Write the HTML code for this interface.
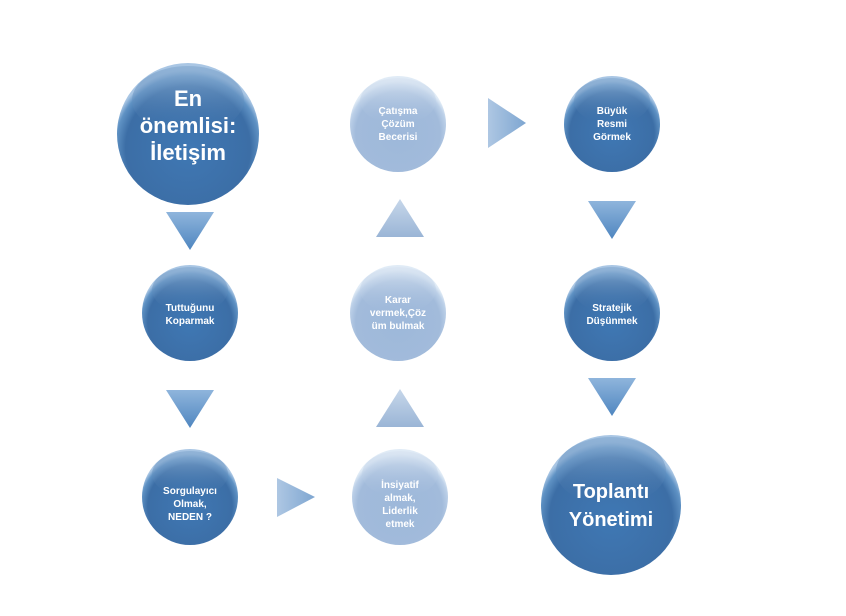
<!DOCTYPE html>
<html><head><meta charset="utf-8"><style>
html,body{margin:0;padding:0;background:#fff;}
svg{display:block;}
text{font-family:"Liberation Sans","DejaVu Sans",sans-serif;font-weight:bold;fill:#fff;text-anchor:middle;}
</style></head><body>
<svg width="846" height="616" viewBox="0 0 846 616" xmlns="http://www.w3.org/2000/svg">
<defs>
<radialGradient id="dk" cx="50%" cy="60%" r="55%">
<stop offset="0" stop-color="#3f78b4"/><stop offset="0.8" stop-color="#3c6ea6"/><stop offset="0.93" stop-color="#5f92c4"/><stop offset="1" stop-color="#a9c6e4"/>
</radialGradient>
<linearGradient id="dkTop" x1="0" y1="0" x2="0" y2="1">
<stop offset="0" stop-color="#8fb2d6" stop-opacity="0.9"/><stop offset="1" stop-color="#3c6ea6" stop-opacity="0"/>
</linearGradient>
<radialGradient id="lt" cx="50%" cy="60%" r="55%">
<stop offset="0" stop-color="#9db8da"/><stop offset="0.8" stop-color="#a2bbdb"/><stop offset="0.93" stop-color="#bcd0e8"/><stop offset="1" stop-color="#e0ebf6"/>
</radialGradient>
<linearGradient id="ltTop" x1="0" y1="0" x2="0" y2="1">
<stop offset="0" stop-color="#dbe6f3" stop-opacity="0.9"/><stop offset="1" stop-color="#a2bbdb" stop-opacity="0"/>
</linearGradient>
<linearGradient id="tri" x1="0" y1="0" x2="0" y2="1">
<stop offset="0" stop-color="#8fb5dc"/><stop offset="1" stop-color="#4f86c0"/>
</linearGradient>
<linearGradient id="triL" x1="0" y1="0" x2="0" y2="1">
<stop offset="0" stop-color="#c7d7ea"/><stop offset="1" stop-color="#9ab5d6"/>
</linearGradient>
<linearGradient id="triR" x1="0" y1="0" x2="1" y2="0">
<stop offset="0" stop-color="#aec7e3"/><stop offset="1" stop-color="#7ea6d1"/>
</linearGradient>
</defs>

<!-- triangles -->
<polygon points="166,212 214,212 190,250" fill="url(#tri)"/>
<polygon points="166,390 214,390 190,428" fill="url(#tri)"/>
<polygon points="277,478 277,517 315,497" fill="url(#triR)"/>
<polygon points="376,237 424,237 400,199" fill="url(#triL)"/>
<polygon points="376,427 424,427 400,389" fill="url(#triL)"/>
<polygon points="488,98 488,148 526,123" fill="url(#triR)"/>
<polygon points="588,201 636,201 612,239" fill="url(#tri)"/>
<polygon points="588,378 636,378 612,416" fill="url(#tri)"/>

<!-- circles -->
<g>
<circle cx="188" cy="134" r="71" fill="url(#dk)"/><ellipse cx="188" cy="100" rx="56" ry="34" fill="url(#dkTop)"/>
<text font-size="22" x="188" y="106">En</text>
<text font-size="22" x="188" y="133">önemlisi:</text>
<text font-size="22" x="188" y="160">İletişim</text>
</g>
<g>
<circle cx="190" cy="313" r="48" fill="url(#dk)"/><ellipse cx="190" cy="290" rx="38" ry="23" fill="url(#dkTop)"/>
<text font-size="10" x="190" y="311">Tuttuğunu</text>
<text font-size="10" x="190" y="324">Koparmak</text>
</g>
<g>
<circle cx="190" cy="497" r="48" fill="url(#dk)"/><ellipse cx="190" cy="474" rx="38" ry="23" fill="url(#dkTop)"/>
<text font-size="10" x="190" y="494">Sorgulayıcı</text>
<text font-size="10" x="190" y="507">Olmak,</text>
<text font-size="10" x="190" y="520">NEDEN ?</text>
</g>
<g>
<circle cx="400" cy="497" r="48" fill="url(#lt)"/><ellipse cx="400" cy="474" rx="38" ry="23" fill="url(#ltTop)"/>
<text font-size="10" x="400" y="488">İnsiyatif</text>
<text font-size="10" x="400" y="501">almak,</text>
<text font-size="10" x="400" y="514">Liderlik</text>
<text font-size="10" x="400" y="527">etmek</text>
</g>
<g>
<circle cx="398" cy="313" r="48" fill="url(#lt)"/><ellipse cx="398" cy="290" rx="38" ry="23" fill="url(#ltTop)"/>
<text font-size="10" x="398" y="303">Karar</text>
<text font-size="10" x="398" y="316">vermek,Çöz</text>
<text font-size="10" x="398" y="329">üm bulmak</text>
</g>
<g>
<circle cx="398" cy="124" r="48" fill="url(#lt)"/><ellipse cx="398" cy="101" rx="38" ry="23" fill="url(#ltTop)"/>
<text font-size="10" x="398" y="114">Çatışma</text>
<text font-size="10" x="398" y="127">Çözüm</text>
<text font-size="10" x="398" y="140">Becerisi</text>
</g>
<g>
<circle cx="612" cy="124" r="48" fill="url(#dk)"/><ellipse cx="612" cy="101" rx="38" ry="23" fill="url(#dkTop)"/>
<text font-size="10" x="612" y="114">Büyük</text>
<text font-size="10" x="612" y="127">Resmi</text>
<text font-size="10" x="612" y="140">Görmek</text>
</g>
<g>
<circle cx="612" cy="313" r="48" fill="url(#dk)"/><ellipse cx="612" cy="290" rx="38" ry="23" fill="url(#dkTop)"/>
<text font-size="10" x="612" y="311">Stratejik</text>
<text font-size="10" x="612" y="324">Düşünmek</text>
</g>
<g>
<circle cx="611" cy="505" r="70" fill="url(#dk)"/><ellipse cx="611" cy="471" rx="55" ry="34" fill="url(#dkTop)"/>
<text font-size="20" x="611" y="498">Toplantı</text>
<text font-size="20" x="611" y="526">Yönetimi</text>
</g>
</svg>
</body></html>
